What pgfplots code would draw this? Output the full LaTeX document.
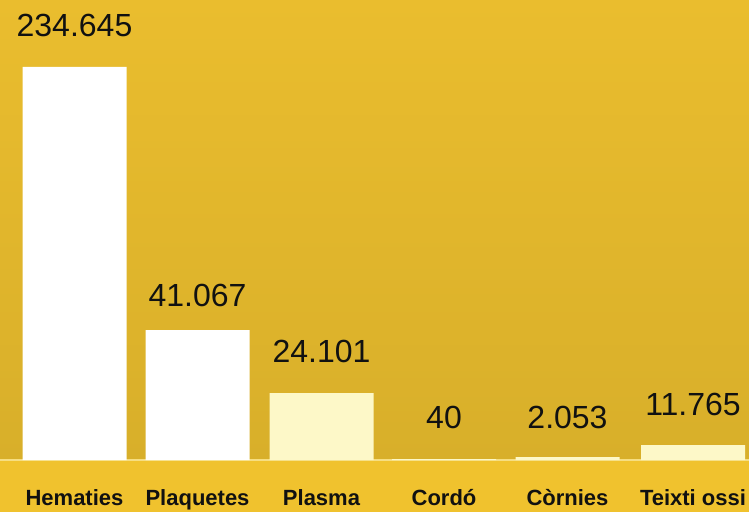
\documentclass[border=0pt]{standalone}
\usepackage{fontspec}
\setmainfont{Liberation Sans}
\usepackage{pgfplots}
\pgfplotsset{compat=1.18}
\usepackage{pgfplotstable}
\definecolor{bgtop}{RGB}{234,189,46}
\definecolor{bgbot}{RGB}{216,175,42}
\definecolor{band}{RGB}{240,194,46}
\definecolor{pale}{RGB}{253,248,200}
\definecolor{sepline}{RGB}{246,222,130}
\definecolor{txt}{RGB}{17,17,17}
% x = bar centre, h = drawn bar height, ly = label baseline height
\pgfplotstableread{
x h
74.5 393
197.5 130
}\whitebars
\pgfplotstableread{
x h
321.5 67
444 1
567.5 3
693 15
}\palebars
\pgfplotstableread{
x ly label
74.5 423 234.645
197.5 154 41.067
321.5 98 24.101
444 32 40
567.5 32 2.053
693 45 11.765
}\labels
\begin{document}
\begin{tikzpicture}
\path[use as bounding box] (0,0) rectangle (749pt,512pt);
\clip (0,0) rectangle (749pt,512pt);
\shade[top color=bgtop, bottom color=bgbot] (0,52pt) rectangle (749pt,512pt);
\fill[band] (0,0) rectangle (749pt,51pt);
\draw[sepline, line width=1.5pt] (0,52pt) -- (749pt,52pt);
\begin{axis}[
  at={(0pt,52pt)}, anchor=south west,
  width=749pt, height=460pt, scale only axis,
  xmin=0, xmax=749, ymin=0, ymax=460,
  axis line style={draw=none},
  major tick length=0pt,
  ytick=\empty,
  xtick={74.5,197.5,321.5,444,567.5,693},
  xticklabels={Hematies,Plaquetes,Plasma,Cordó,Còrnies,Teixti ossi},
  xticklabel style={font=\bfseries\fontsize{22}{22}\selectfont, text=txt, anchor=base, yshift=-45pt},
  clip=false,
]
\addplot[ybar, bar width=104, bar shift=0pt, fill=white, draw=none] table[x=x,y=h] {\whitebars};
\addplot[ybar, bar width=104, bar shift=0pt, fill=pale, draw=none] table[x=x,y=h] {\palebars};
\addplot[draw=none, mark=none, nodes near coords, point meta=explicit symbolic,
  every node near coord/.append style={anchor=base, inner sep=0pt, text=txt, font=\fontsize{32}{32}\selectfont}]
  table[x=x,y=ly,meta=label] {\labels};
\end{axis}
\end{tikzpicture}
\end{document}
